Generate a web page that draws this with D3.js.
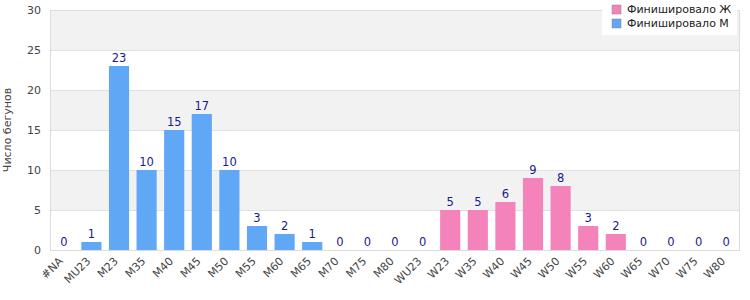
<!DOCTYPE html>
<html lang="ru">
<head>
<meta charset="utf-8">
<title>Chart</title>
<script src="https://cdn.jsdelivr.net/npm/d3@7/dist/d3.min.js"></script>
<style>
  html, body { margin: 0; padding: 0; background: #fff; }
  body { font-family: 'DejaVu Sans', Verdana, sans-serif; }
</style>
</head>
<body>
<script>
// data
var categories = ["#NA", "MU23", "M23", "M35", "M40", "M45", "M50", "M55", "M60", "M65", "M70", "M75", "M80",
  "WU23", "W23", "W35", "W40", "W45", "W50", "W55", "W60", "W65", "W70", "W75", "W80"];
var menFinished = [0, 1, 23, 10, 15, 17, 10, 3, 2, 1, 0, 0, 0, 0, 0, 0, 0, 0, 0, 0, 0, 0, 0, 0, 0];
var womenFinished = [0, 0, 0, 0, 0, 0, 0, 0, 0, 0, 0, 0, 0, 0, 5, 5, 6, 9, 8, 3, 2, 0, 0, 0, 0];
var yTicks = [0, 5, 10, 15, 20, 25, 30];
var legendLabels = ["Финишировало Ж", "Финишировало М"];

var w = 750, h = 300;
var plotL = 50, plotR = 740, plotT = 10, plotB = 250;
var blue = "#60a8f5", pink = "#f383ba";

var svg = d3.select("body").append("svg")
  .attr("width", w)
  .attr("height", h);

var x = d3.scaleBand()
  .domain(categories)
  .range([plotL, plotR])
  .paddingInner(0.27)
  .paddingOuter(0.135);

var y = d3.scaleLinear()
  .domain([0, 30])
  .range([plotB, plotT]);

// alternating bands
var bands = d3.range(0, 30, 5);
svg.append("g").selectAll("rect")
  .data(bands)
  .enter()
  .append("rect")
  .attr("x", plotL)
  .attr("width", plotR - plotL)
  .attr("y", (d) => y(d + 5))
  .attr("height", (d) => y(d) - y(d + 5))
  .attr("fill", (d, i) => i % 2 ? "#f2f2f2" : "#ffffff");

// grid
svg.append("g").selectAll("line")
  .data(yTicks)
  .enter()
  .append("line")
  .attr("x1", plotL)
  .attr("x2", plotR)
  .attr("y1", (d) => y(d) + 0.5)
  .attr("y2", (d) => y(d) + 0.5)
  .attr("stroke", "#e0e0e0");

// border
svg.append("rect")
  .attr("x", plotL + 0.5)
  .attr("y", plotT + 0.5)
  .attr("width", plotR - plotL - 1)
  .attr("height", plotB - plotT)
  .attr("fill", "none")
  .attr("stroke", "#dcdcdc");

// y axis
var axisY = d3.axisLeft(y).tickValues(yTicks).tickSize(0).tickPadding(9);
var gy = svg.append("g")
  .attr("transform", "translate(" + plotL + ",0)")
  .call(axisY);
gy.select(".domain").remove();
gy.selectAll("text")
  .attr("fill", "#444")
  .style("font-size", "11px")
  .style("font-family", "'DejaVu Sans', sans-serif");

// x axis
var axisX = d3.axisBottom(x).tickSize(0);
var gx = svg.append("g")
  .attr("transform", "translate(0," + plotB + ")")
  .call(axisX);
gx.select(".domain").remove();
gx.selectAll("text")
  .attr("fill", "#444")
  .style("font-size", "11px")
  .style("font-family", "'DejaVu Sans', sans-serif")
  .attr("text-anchor", "end")
  .attr("dy", "0.35em")
  .attr("y", 0)
  .attr("transform", "translate(-3,9) rotate(-45)");

// bars
var rows = categories.map((c, i) => ({
  cat: c,
  val: menFinished[i] + womenFinished[i],
  color: womenFinished[i] > 0 ? pink : blue
}));

svg.append("g").selectAll("rect")
  .data(rows)
  .enter()
  .append("rect")
  .attr("x", (d) => x(d.cat))
  .attr("y", (d) => y(d.val))
  .attr("width", x.bandwidth())
  .attr("height", (d) => plotB - y(d.val))
  .attr("fill", (d) => d.color);

svg.append("g").selectAll("text")
  .data(rows)
  .enter()
  .append("text")
  .text((d) => d.val)
  .attr("x", (d) => x(d.cat) + x.bandwidth() / 2)
  .attr("y", (d) => y(d.val) - 4)
  .attr("text-anchor", "middle")
  .attr("fill", "#1a1a8c")
  .style("font-size", "11.5px");

// y title
svg.append("text")
  .attr("transform", "translate(11," + ((plotT + plotB) / 2) + ") rotate(-90)")
  .attr("text-anchor", "middle")
  .attr("fill", "#444")
  .style("font-size", "11px")
  .text("Число бегунов");

// legend
var lg = svg.append("g");
lg.append("rect")
  .attr("x", 602)
  .attr("y", 0)
  .attr("width", 135)
  .attr("height", 35)
  .attr("fill", "#fff");
var items = lg.selectAll("g")
  .data(legendLabels)
  .enter()
  .append("g")
  .attr("transform", (d, i) => "translate(612," + (5 + i * 14) + ")");
items.append("rect")
  .attr("width", 9)
  .attr("height", 9)
  .attr("fill", (d, i) => i ? blue : pink)
  .attr("stroke", "#888")
  .attr("stroke-width", 0.5);
items.append("text")
  .attr("x", 15)
  .attr("y", 8)
  .attr("fill", "#222")
  .style("font-size", "11px")
  .text((d) => d);
</script>
</body>
</html>
